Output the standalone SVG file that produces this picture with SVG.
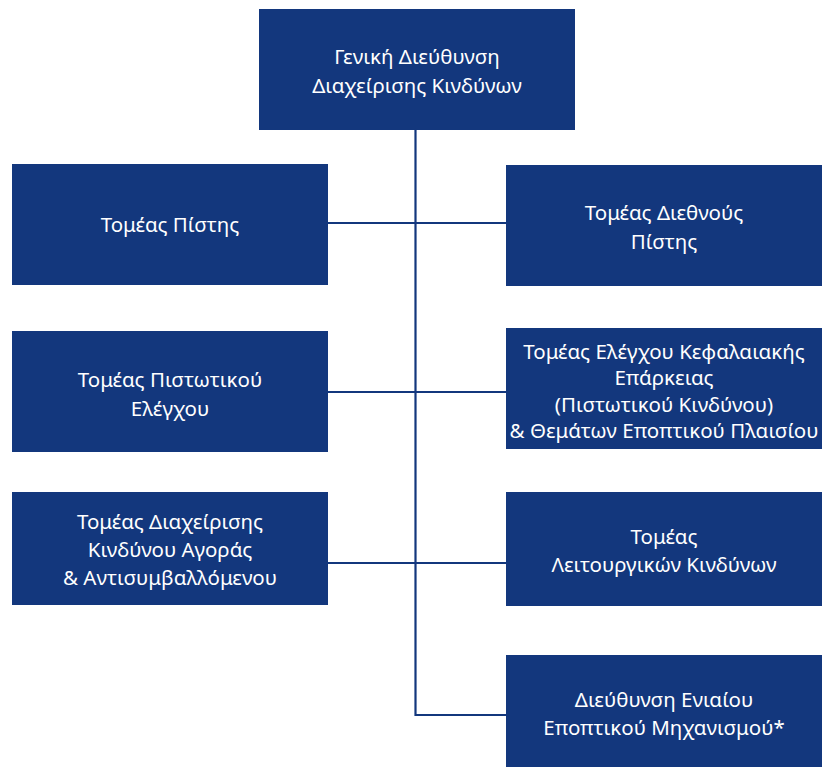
<svg xmlns="http://www.w3.org/2000/svg" width="823" height="767" viewBox="0 0 823 767">
<style>
.box{fill:#13377d}
.t{font-family:"Noto Sans","Open Sans","DejaVu Sans",sans-serif;font-size:20.5px;fill:#ffffff;text-anchor:middle}
.c{stroke:#13377d;stroke-width:2.2;fill:none}
</style>
<rect width="823" height="767" fill="#ffffff"/>
<g id="connectors">
<path class="c" d="M415.5 130 V715 H506"/>
<path class="c" d="M328 223 H506"/>
<path class="c" d="M328 392 H506"/>
<path class="c" d="M328 563 H506"/>
</g>
<g id="n0"><rect class="box" x="259" y="9" width="316" height="121"/>
<text class="t" x="417" y="64">Γενική Διεύθυνση</text><text class="t" x="417" y="93">Διαχείρισης Κινδύνων</text></g>
<g id="n1"><rect class="box" x="12" y="164" width="316" height="121"/>
<text class="t" x="170" y="232">Τομέας Πίστης</text></g>
<g id="n2"><rect class="box" x="506" y="165" width="316" height="121"/>
<text class="t" x="664" y="220">Τομέας Διεθνούς</text><text class="t" x="664" y="249">Πίστης</text></g>
<g id="n3"><rect class="box" x="12" y="331" width="316" height="121"/>
<text class="t" x="170" y="387">Τομέας Πιστωτικού</text><text class="t" x="170" y="416">Ελέγχου</text></g>
<g id="n4"><rect class="box" x="506" y="328" width="316" height="121"/>
<text class="t" x="664" y="359">Τομέας Ελέγχου Κεφαλαιακής</text><text class="t" x="664" y="385">Επάρκειας</text><text class="t" x="664" y="412">(Πιστωτικού Κινδύνου)</text><text class="t" x="664" y="438">&amp; Θεμάτων Εποπτικού Πλαισίου</text></g>
<g id="n5"><rect class="box" x="12" y="492" width="316" height="113"/>
<text class="t" x="170" y="529">Τομέας Διαχείρισης</text><text class="t" x="170" y="557">Κινδύνου Αγοράς</text><text class="t" x="170" y="585">&amp; Αντισυμβαλλόμενου</text></g>
<g id="n6"><rect class="box" x="506" y="492" width="316" height="114"/>
<text class="t" x="664" y="544">Τομέας</text><text class="t" x="664" y="572">Λειτουργικών Κινδύνων</text></g>
<g id="n7"><rect class="box" x="506" y="655" width="316" height="112"/>
<text class="t" x="664" y="707">Διεύθυνση Ενιαίου</text><text class="t" x="664" y="735">Εποπτικού Μηχανισμού*</text></g>
</svg>
